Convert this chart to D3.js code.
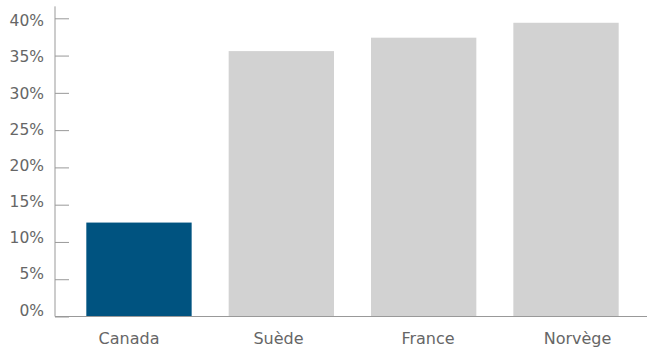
<!DOCTYPE html>
<html>
<head>
<meta charset="utf-8">
<script src="https://cdn.jsdelivr.net/npm/d3@7"></script>
<style>
  html, body { margin: 0; padding: 0; background: #fff; }
  svg { display: block; }
  .axis text { font-family: "DejaVu Sans", sans-serif; font-size: 16px; fill: #666; }
  .axis.y text { font-size: 15.5px; }
</style>
</head>
<body>
<svg id="chart" width="647" height="349"></svg>
<script>
// Share by country (%)
const countries = ["Canada", "Suède", "France", "Norvège"];
const values = [12.6, 35.6, 37.4, 39.4];
const yTicks = [0, 5, 10, 15, 20, 25, 30, 35, 40];
const highlight = "Canada";

const svg = d3.select("#chart");
const x0 = 55, x1 = 650, yBottom = 316.5, yTop = 18.3;

// bar positions
const x = d3.scaleBand()
  .domain(countries)
  .range([x0, x1])
  .paddingInner(0.26)
  .paddingOuter(0.22);

// category label positions (evenly spread across the width)
const xLabel = d3.scaleBand()
  .domain(countries)
  .range([54.25, 652.25]);

const y = d3.scaleLinear()
  .domain([0, 40])
  .range([yBottom, yTop]);

// baselines of the value labels
const yLabel = d3.scaleLinear()
  .domain([0, 40])
  .range([315, 25.7]);

// bars
svg.append("g")
  .selectAll("rect")
  .data(countries)
  .join("rect")
  .attr("x", d => x(d))
  .attr("width", x.bandwidth())
  .attr("y", (d, i) => y(values[i]))
  .attr("height", (d, i) => y(0) - y(values[i]))
  .attr("fill", d => d === highlight ? "#005380" : "#d2d2d2");

// left axis with inward ticks
const yAxis = svg.append("g")
  .attr("class", "axis y")
  .attr("transform", `translate(${x0},0)`)
  .call(d3.axisLeft(y).tickValues(yTicks).tickFormat(d => d + "%").tickSize(-14).tickPadding(11));
yAxis.select(".domain").remove();
yAxis.selectAll(".tick line").attr("stroke", "#999");
yAxis.selectAll(".tick text")
  .attr("dy", 0)
  .attr("y", d => yLabel(d) - y(d));
svg.append("line")
  .attr("x1", x0).attr("x2", x0)
  .attr("y1", y(0)).attr("y2", y(41.6))
  .attr("stroke", "#999");

// bottom axis
const xAxis = svg.append("g")
  .attr("class", "axis x")
  .attr("transform", `translate(0,${yBottom})`)
  .call(d3.axisBottom(xLabel).tickSize(0).tickPadding(16));
xAxis.select(".domain").remove();
svg.append("line")
  .attr("x1", x0).attr("x2", 647)
  .attr("y1", yBottom).attr("y2", yBottom)
  .attr("stroke", "#999");
</script>
</body>
</html>
